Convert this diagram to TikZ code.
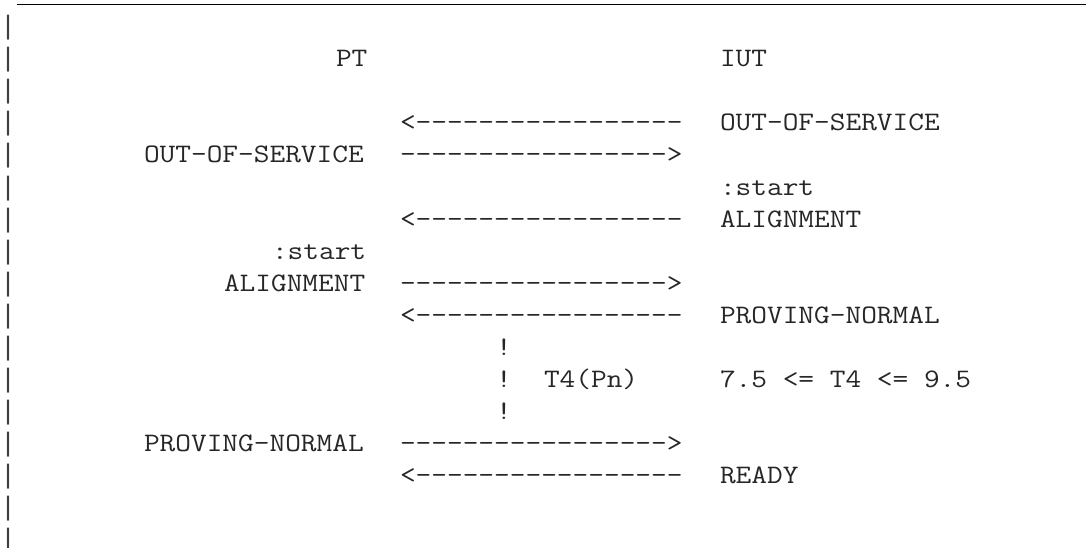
\documentclass[tikz,border=0pt]{standalone}
\usepackage{fontspec}
\setmonofont{Latin Modern Mono}[FakeStretch=1.1428]
\newfontfamily\barfont{Liberation Mono}
\begin{document}
\begin{tikzpicture}[x=1pt,y=-1pt,
  txt/.style={anchor=base west, inner sep=0pt, outer sep=0pt,
    font=\ttfamily\fontsize{26.67pt}{32pt}\selectfont, text=black!85},
  bartxt/.style={anchor=base west, inner sep=0pt, outer sep=0pt,
    font=\barfont\fontsize{26.67pt}{32pt}\selectfont, text=black!75},
  rulestyle/.style={line width=1.4pt, draw=black}]
\useasboundingbox (0,0) rectangle (1086,548);
% top rule
\coordinate (ruleL) at (17,4.5);
\coordinate (ruleR) at (1086,4.5);
\draw[rulestyle] (ruleL) -- (ruleR);
% left bars
\foreach \r in {0,...,16} {
  \node[bartxt] (bar\r) at (0, 35+32*\r) {|};
}
% row 1
\node[txt] (pt)  at (21*16, 35+32*1) {PT};
\node[txt] (iut) at (45*16, 35+32*1) {IUT};
% row 3
\node[txt] (a3) at (25*16, 35+32*3) {<-----------------};
\node[txt] (s3) at (45*16, 35+32*3) {OUT-OF-SERVICE};
% row 4
\node[txt] (s4) at (9*16, 35+32*4) {OUT-OF-SERVICE};
\node[txt] (a4) at (25*16, 35+32*4) {----------------->};
% row 5
\node[txt] (s5) at (45*16, 35+32*5) {:start};
% row 6
\node[txt] (a6) at (25*16, 35+32*6) {<-----------------};
\node[txt] (s6) at (45*16, 35+32*6) {ALIGNMENT};
% row 7
\node[txt] (s7) at (17*16, 35+32*7) {:start};
% row 8
\node[txt] (s8) at (14*16, 35+32*8) {ALIGNMENT};
\node[txt] (a8) at (25*16, 35+32*8) {----------------->};
% row 9
\node[txt] (a9) at (25*16, 35+32*9) {<-----------------};
\node[txt] (s9) at (45*16, 35+32*9) {PROVING-NORMAL};
% rows 10-12
\node[txt] (e10) at (31*16, 35+32*10) {!};
\node[txt] (e11) at (31*16, 35+32*11) {!};
\node[txt] (t11) at (34*16, 35+32*11) {T4(Pn)};
\node[txt] (c11) at (45*16, 35+32*11) {7.5 <= T4 <= 9.5};
\node[txt] (e12) at (31*16, 35+32*12) {!};
% row 13
\node[txt] (s13) at (9*16, 35+32*13) {PROVING-NORMAL};
\node[txt] (a13) at (25*16, 35+32*13) {----------------->};
% row 14
\node[txt] (a14) at (25*16, 35+32*14) {<-----------------};
\node[txt] (s14) at (45*16, 35+32*14) {READY};
\end{tikzpicture}
\end{document}
